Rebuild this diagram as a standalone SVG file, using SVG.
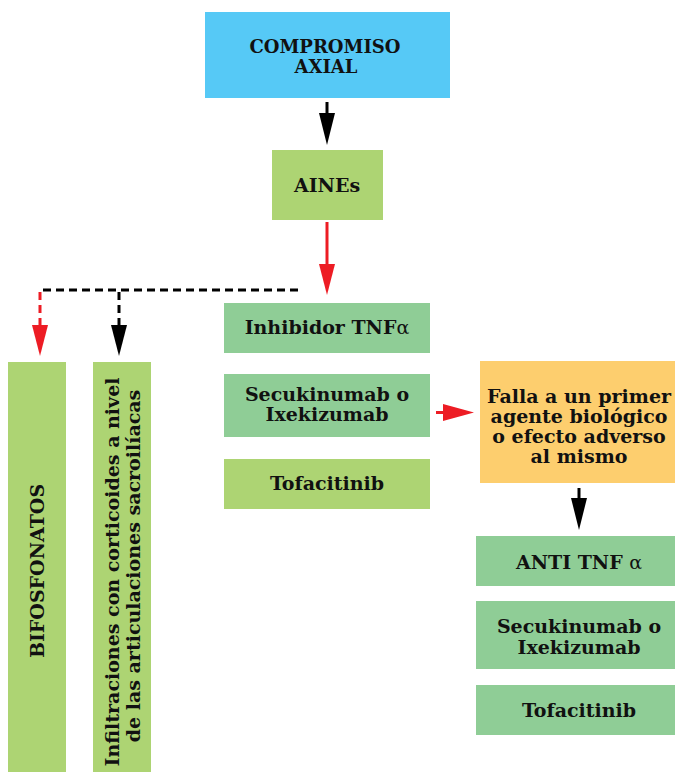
<svg xmlns="http://www.w3.org/2000/svg" width="675" height="772" viewBox="0 0 675 772">
<style>
.t{font-family:"DejaVu Serif","Liberation Serif",serif;font-weight:bold;font-size:19px;fill:#111;text-anchor:middle}
.s{font-size:18px}
.n{font-weight:normal}
.blue{fill:#56C9F6}.lime{fill:#ADD473}.green{fill:#8FCD96}.orange{fill:#FDCE6E}
.ks{stroke:#000;stroke-width:3;fill:none}.rs{stroke:#ED1C24;stroke-width:3;fill:none}
.dash{stroke-dasharray:8 5}
.kh{fill:#000}.rh{fill:#ED1C24}
</style>
<rect width="675" height="772" fill="#fff"/>
<g id="compromiso"><rect class="blue" x="205" y="12" width="245" height="86"/><text class="t s" x="325" y="53">COMPROMISO</text><text class="t s" x="326" y="73">AXIAL</text></g>
<g id="aines"><rect class="lime" x="272" y="150" width="111" height="70"/><text class="t" x="327" y="192">AINEs</text></g>
<g id="bifosfonatos"><rect class="lime" x="8" y="362" width="58" height="410"/><text class="t" transform="translate(44,571) rotate(-90)">BIFOSFONATOS</text></g>
<g id="infiltraciones"><rect class="lime" x="93" y="362" width="58" height="410"/><text class="t" transform="translate(119,572) rotate(-90)">Infiltraciones con corticoides a nivel</text><text class="t" transform="translate(140,566) rotate(-90)">de las articulaciones sacroilíacas</text></g>
<g id="inhibidor"><rect class="green" x="224" y="303" width="206" height="50"/><text class="t" x="327" y="334">Inhibidor TNF<tspan class="n">α</tspan></text></g>
<g id="secukinumab1"><rect class="green" x="224" y="374" width="206" height="63"/><text class="t" x="327" y="401">Secukinumab o</text><text class="t" x="327" y="421">Ixekizumab</text></g>
<g id="tofacitinib1"><rect class="lime" x="224" y="459" width="206" height="50"/><text class="t" x="327" y="490">Tofacitinib</text></g>
<g id="falla"><rect class="orange" x="480" y="361" width="195" height="122"/><text class="t" x="579" y="403">Falla a un primer</text><text class="t" x="579" y="423">agente biológico</text><text class="t" x="579" y="443">o efecto adverso</text><text class="t" x="579" y="463">al mismo</text></g>
<g id="antitnf"><rect class="green" x="476" y="536" width="199" height="50"/><text class="t" x="579" y="569">ANTI TNF <tspan class="n">α</tspan></text></g>
<g id="secukinumab2"><rect class="green" x="476" y="601" width="199" height="68"/><text class="t" x="579" y="633">Secukinumab o</text><text class="t" x="579" y="654">Ixekizumab</text></g>
<g id="tofacitinib2"><rect class="green" x="476" y="685" width="199" height="50"/><text class="t" x="579" y="717">Tofacitinib</text></g>
<g id="connectors">
<line class="ks" x1="327" y1="102" x2="327" y2="116"/><polygon class="kh" points="319,113 335,113 327,145"/>
<line class="rs" x1="327" y1="222" x2="327" y2="267"/><polygon class="rh" points="319,264 335,264 327,295"/>
<line class="ks dash" x1="298" y1="290" x2="40" y2="290"/>
<line class="rs dash" x1="40" y1="292" x2="40" y2="327"/><polygon class="rh" points="32,325 48,325 40,356"/>
<line class="ks dash" x1="119" y1="292" x2="119" y2="327"/><polygon class="kh" points="111,325 127,325 119,356"/>
<line class="rs" x1="436" y1="412.5" x2="446" y2="412.5"/><polygon class="rh" points="443,404 443,421 474,412.5"/>
<line class="ks" x1="579" y1="488" x2="579" y2="501"/><polygon class="kh" points="571,498 587,498 579,530"/>
</g>
</svg>
